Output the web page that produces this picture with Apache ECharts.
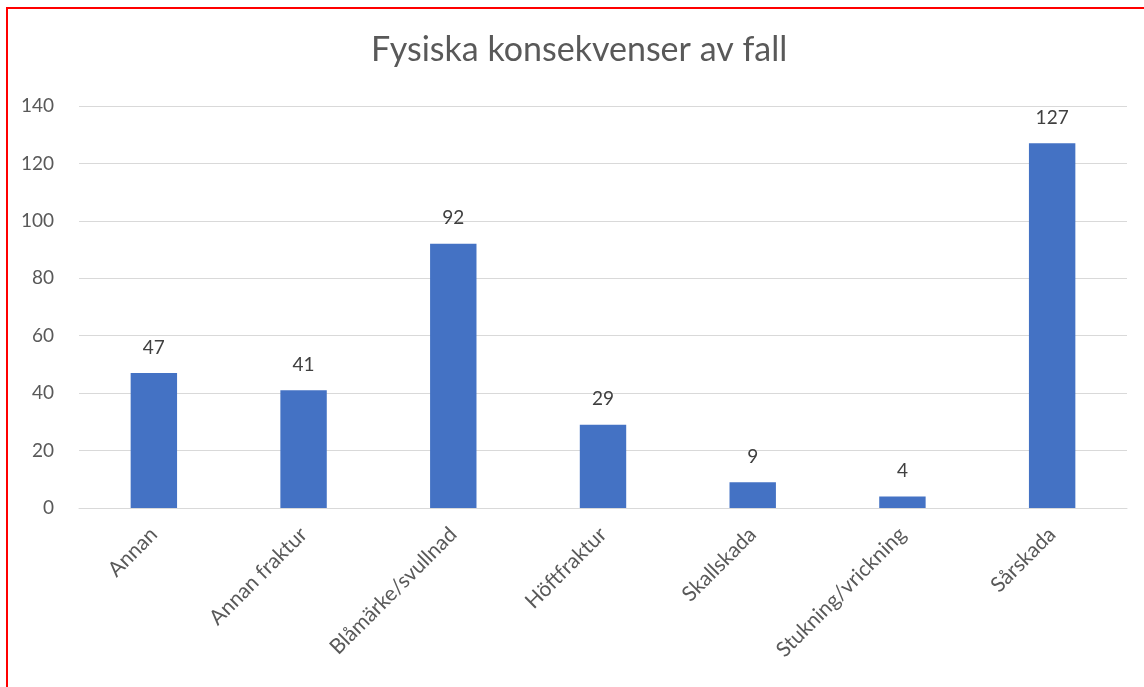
<!DOCTYPE html>
<html>
<head>
<meta charset="utf-8">
<title>Fysiska konsekvenser av fall</title>
<script src="https://cdn.jsdelivr.net/npm/echarts@6/dist/echarts.min.js"></script>
<style>
  html, body { margin: 0; padding: 0; background: #fff; }
  #wrap { position: relative; width: 1144px; height: 687px; overflow: hidden; }
  #frame { position: absolute; left: 6px; top: 7px; width: 1200px; height: 800px; border: 2px solid red; box-sizing: border-box; pointer-events: none; }
  #main { position: absolute; left: 0; top: 0; width: 1144px; height: 687px; }
</style>
</head>
<body>
<div id="wrap">
  <div id="main"></div>
  <div id="frame"></div>
</div>
<script>
// kategorier och antal
var categories = ['Annan', 'Annan fraktur', 'Blåmärke/svullnad', 'Höftfraktur', 'Skallskada', 'Stukning/vrickning', 'Sårskada'];
var values = [47, 41, 92, 29, 9, 4, 127];
var yTicks = [0, 20, 40, 60, 80, 100, 120, 140];

var textColor = '#595959';
var fontName = 'Lato, "Open Sans", sans-serif';

var myChart = echarts.init(document.getElementById('main'));
var option = {
    backgroundColor: '#ffffff',
    animation: false,
    title: {
        text: 'Fysiska konsekvenser av fall',
        left: 366,
        top: 28,
        textStyle: { color: textColor, fontSize: 34, fontWeight: 'normal', fontFamily: fontName }
    },
    grid: { left: 79, right: 17, top: 106, bottom: 179 },
    xAxis: {
        type: 'category',
        data: categories,
        axisLine: { lineStyle: { color: '#d9d9d9', width: 1 } },
        axisTick: { show: false },
        axisLabel: {
            rotate: 45,
            interval: 0,
            margin: 23,
            color: textColor,
            fontSize: 21,
            fontFamily: fontName
        }
    },
    yAxis: {
        type: 'value',
        min: yTicks[0],
        max: yTicks[yTicks.length - 1],
        interval: 20,
        axisLine: { show: false },
        axisTick: { show: false },
        splitLine: { lineStyle: { color: '#d9d9d9', width: 1 } },
        axisLabel: { color: textColor, fontSize: 19, fontFamily: fontName, margin: 25 }
    },
    series: [{
        name: 'Antal',
        type: 'bar',
        data: values,
        barWidth: '31%',
        itemStyle: { color: '#4472c4' },
        label: {
            show: true,
            position: 'top',
            distance: 16,
            color: '#404040',
            fontSize: 19,
            fontFamily: fontName
        }
    }]
};
myChart.setOption(option);
</script>
</body>
</html>
